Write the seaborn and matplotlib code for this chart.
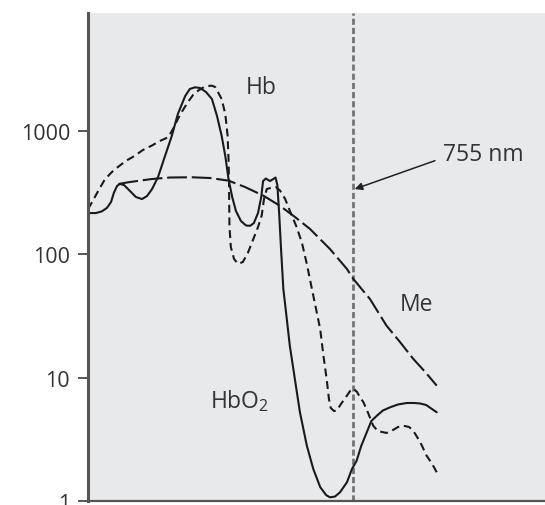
import matplotlib
matplotlib.use("Agg")
import matplotlib.pyplot as plt
import seaborn as sns
import pandas as pd
from matplotlib.ticker import NullLocator, FixedLocator, FixedFormatter

# absorption curves, wavelength (nm) vs absorption (log scale)
hbo2_nm = [180, 197, 210, 221, 230, 236, 243, 249, 258, 271, 284, 297, 308, 319, 332, 345,
           362, 375, 391, 401, 412, 423, 436, 449, 460, 470, 478, 485, 493, 501, 512, 523,
           532, 540, 549, 556, 560, 566, 575, 582, 587, 591, 595, 599, 604, 611, 618, 629,
           640, 655, 669, 684, 697, 705, 716, 727, 742, 753, 763, 773, 785, 795, 807, 820,
           836, 853, 872, 888, 901, 914, 925, 937]
hbo2_val = [217, 217, 224, 239, 267, 316, 360, 374, 367, 328, 293, 282, 298, 340, 426, 597,
            923, 1384, 1940, 2210, 2280, 2253, 2090, 1833, 1334, 923, 631, 410, 293, 226, 187, 172,
            171, 180, 217, 293, 395, 414, 395, 410, 422, 367, 213, 111, 52.5, 31.1, 18.2, 9.74,
            5.23, 2.80, 1.81, 1.29, 1.11, 1.066, 1.08, 1.17, 1.41, 1.81, 2.11, 2.78, 3.59, 4.44,
            4.90, 5.40, 5.74, 6.05, 6.22, 6.22, 6.16, 5.99, 5.61, 5.23]

hb_nm = [180, 189, 202, 217, 232, 245, 262, 282, 299, 318, 336, 354, 367, 375, 383, 397,
         408, 419, 432, 440, 449, 456, 462, 470, 478, 483, 485, 486, 486.5, 487, 490, 497,
         506, 516, 527, 539, 549, 557, 562, 568, 579, 588, 597, 608, 618, 632, 644, 655,
         666, 675, 684, 691, 698, 703, 707, 714, 720, 729, 742, 749, 756, 764, 770, 778,
         788, 799, 809, 828, 842, 853, 864, 877, 886, 901, 915, 927, 937]
hb_val = [234, 267, 328, 410, 468, 514, 575, 635, 706, 765, 836, 896, 1086, 1261, 1429, 1733,
          1976, 2142, 2295, 2338, 2350, 2295, 2090, 1833, 1384, 923, 597, 410, 257, 171, 115, 91.9,
          83.7, 86.9, 103, 134, 167, 207, 282, 340, 350, 353, 330, 282, 227, 170, 126, 83.7,
          52.5, 36.1, 24.8, 15.1, 9.74, 6.70, 5.66, 5.35, 5.40, 6.10, 7.13, 7.79, 8.16, 7.64, 6.96, 6.30,
          5.16, 4.07, 3.68, 3.55, 3.75, 3.97, 4.07, 3.97, 3.70, 3.00, 2.32, 1.99, 1.70]

me_nm = [246, 271, 318, 358, 405, 445, 485, 521, 561, 597, 629, 662, 705, 742, 756, 792,
         828, 857, 886, 912, 937]
me_val = [374, 388, 410, 422, 424, 418, 398, 353, 300, 248, 202, 161, 111, 76.3, 63.2, 43.5,
          26.4, 19.5, 14.2, 11.1, 8.6]

yticks = [1, 10, 100, 1000]
ytick_labels = ["1", "10", "100", "1000"]
laser_nm = 755

sns.set_theme(style="white")
plt.rcParams['font.family'] = ['Open Sans', 'DejaVu Sans']
plt.rcParams['mathtext.fontset'] = 'custom'
plt.rcParams['mathtext.rm'] = 'Open Sans'

fig = plt.figure(figsize=(5.45, 5.06), dpi=100)
ax = fig.add_axes([0.1615, 0.0085, 0.8385, 0.9648])
ax.set_facecolor('#e8e9eb')

df_hbo2 = pd.DataFrame({'nm': hbo2_nm, 'val': hbo2_val})
df_hb = pd.DataFrame({'nm': hb_nm, 'val': hb_val})
df_me = pd.DataFrame({'nm': me_nm, 'val': me_val})

ax.axvline(laser_nm, color='#747474', lw=2.0, linestyle=(0, (2.2, 1.1)), zorder=1)

sns.lineplot(data=df_hbo2, x='nm', y='val', ax=ax, sort=False, estimator=None,
             color='#1a1a1a', lw=1.5)
sns.lineplot(data=df_hb, x='nm', y='val', ax=ax, sort=False, estimator=None,
             color='#1a1a1a', lw=1.5, linestyle=(0, (3.8, 2.3)))
sns.lineplot(data=df_me, x='nm', y='val', ax=ax, sort=False, estimator=None,
             color='#1a1a1a', lw=1.5, linestyle=(0, (9.5, 2.3)))

ax.set_yscale('log')
ax.set_ylim(1, 9240)
ax.set_xlim(180, 1172)
ax.yaxis.set_major_locator(FixedLocator(yticks))
ax.yaxis.set_major_formatter(FixedFormatter(ytick_labels))
ax.yaxis.set_minor_locator(NullLocator())
ax.set_xticks([])
ax.set_xlabel('')
ax.set_ylabel('')

for s in ['top', 'right']:
    ax.spines[s].set_visible(False)
ax.spines['left'].set_color('#555555')
ax.spines['left'].set_linewidth(2.2)
ax.spines['bottom'].set_color('#555555')
ax.spines['bottom'].set_linewidth(1.6)
ax.tick_params(axis='y', which='major', left=True, length=7.5, width=1.4,
               color='#555555', pad=5.5, labelsize=15.5, labelcolor='#333333')

ax.text(556, 2295, 'Hb', fontsize=16.5, color='#333333', ha='center', va='center')
ax.text(892, 39.6, 'Me', fontsize=16.5, color='#333333', ha='center', va='center')
ax.text(510, 6.6, r'HbO$_\mathrm{2}$', fontsize=16.5, color='#333333', ha='center',
        va='center')
ax.text(950, 655, '755 nm', fontsize=16.5, color='#333333', ha='left', va='center')
ax.annotate('', xy=(759, 340), xytext=(933, 578),
            arrowprops=dict(arrowstyle='-|>', color='#222222', lw=1.1,
                            mutation_scale=11, shrinkA=0, shrinkB=0))

fig.savefig('out.png', dpi=100)
